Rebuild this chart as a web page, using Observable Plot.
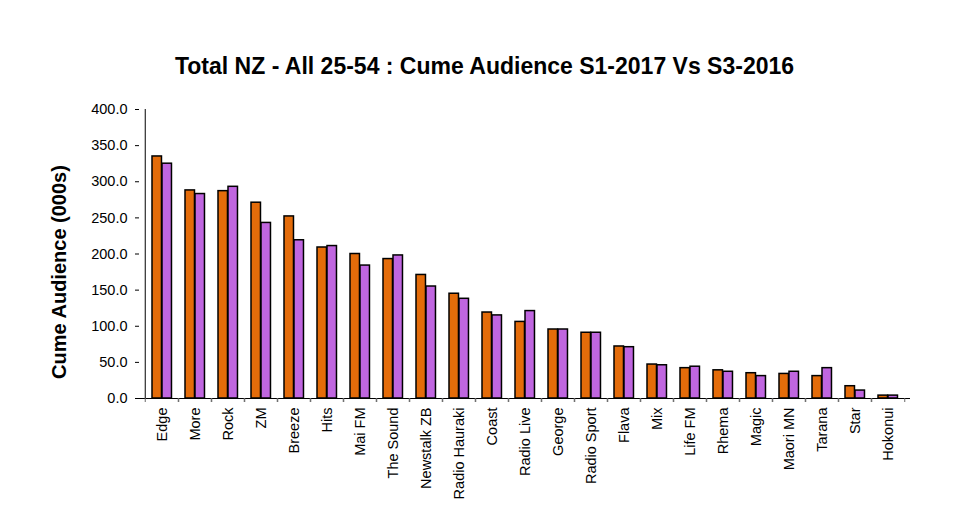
<!DOCTYPE html>
<html>
<head>
<meta charset="utf-8">
<script src="https://cdn.jsdelivr.net/npm/d3@7"></script>
<script src="https://cdn.jsdelivr.net/npm/@observablehq/plot@0.6"></script>
<style>
  html, body { margin: 0; padding: 0; background: #fff; }
  #wrap { width: 956px; height: 514px; overflow: hidden; font-family: "Liberation Sans", Arial, sans-serif; }
  #title { height: 95px; box-sizing: border-box; padding-top: 52px; padding-left: 13px; text-align: center;
           font-size: 23px; font-weight: bold; line-height: 28px; color: #000; white-space: nowrap; }
  svg { display: block; overflow: visible; }
</style>
</head>
<body>
<div id="wrap">
  <div id="title">Total NZ - All 25-54 : Cume Audience S1-2017 Vs S3-2016</div>
  <div id="chart"></div>
</div>
<script>
const stations = ["Edge","More","Rock","ZM","Breeze","Hits","Mai FM","The Sound","Newstalk ZB","Radio Hauraki","Coast","Radio Live","George","Radio Sport","Flava","Mix","Life FM","Rhema","Magic","Maori MN","Tarana","Star","Hokonui"];
const s1_2017 = [335,288,287,271,252,209,200,193,171,145,119,106,95.5,91,72,47,42,39,35,34,31,17,4];
const s3_2016 = [325,283,293,243,219,211,184,198,155,138,115,121,95.5,91,71,46,44,37,31,37,42,11,4];
const seriesNames = ["S1-2017","S3-2016"];
const yTicks = [0,50,100,150,200,250,300,350,400];

const data = [];
stations.forEach((s, i) => {
  data.push({station: s, series: seriesNames[0], value: s1_2017[i]});
  data.push({station: s, series: seriesNames[1], value: s3_2016[i]});
});

const W = 956, H = 419, mL = 139, mR = 46, mT = 14, mB = 116;
const bw = (W - mL - mR) / stations.length;

const chart = Plot.plot({
  width: W, height: H,
  marginTop: mT, marginBottom: mB, marginLeft: mL, marginRight: mR,
  style: {fontFamily: "'Liberation Sans', Arial, sans-serif", fontSize: "14.5px", color: "#000", background: "#fff", overflow: "visible"},
  x: {domain: stations, padding: 0, label: null},
  y: {domain: [0, 400], label: null},
  marks: [
    Plot.barY(data.filter(d => d.series === seriesNames[0]), {x: "station", y: "value", fill: "#E46C0A", stroke: "#000", strokeWidth: 1.5, insetLeft: 7, insetRight: bw - 17}),
    Plot.barY(data.filter(d => d.series === seriesNames[1]), {x: "station", y: "value", fill: "#C066E0", stroke: "#000", strokeWidth: 1.5, insetLeft: 17, insetRight: bw - 27}),
    Plot.ruleY([0], {stroke: "#000", strokeWidth: 1}),
    Plot.ruleX([stations[0]], {y1: 0, y2: 400, dx: -bw / 2, stroke: "#000", strokeWidth: 1}),
    Plot.axisY({ticks: yTicks, tickFormat: d3.format(".1f"), tickSize: 4, tickPadding: 8, label: null, stroke: "#000"}),
    Plot.axisX({tickSize: 0, tickRotate: -90, tickPadding: 9, label: null}),
    Plot.axisX({tickSize: 4, tickFormat: () => "", dx: -bw / 2, label: null, stroke: "#666"}),
    Plot.axisX({tickSize: 4, tickFormat: () => "", dx: bw / 2, label: null, stroke: "#666"}),
    Plot.text(["Cume Audience (000s)"], {frameAnchor: "left", textAnchor: "middle", rotate: -90, dx: -80, dy: 18, fontSize: 20, fontWeight: "bold", fill: "#000"})
  ]
});
document.getElementById("chart").appendChild(chart);
</script>
</body>
</html>
